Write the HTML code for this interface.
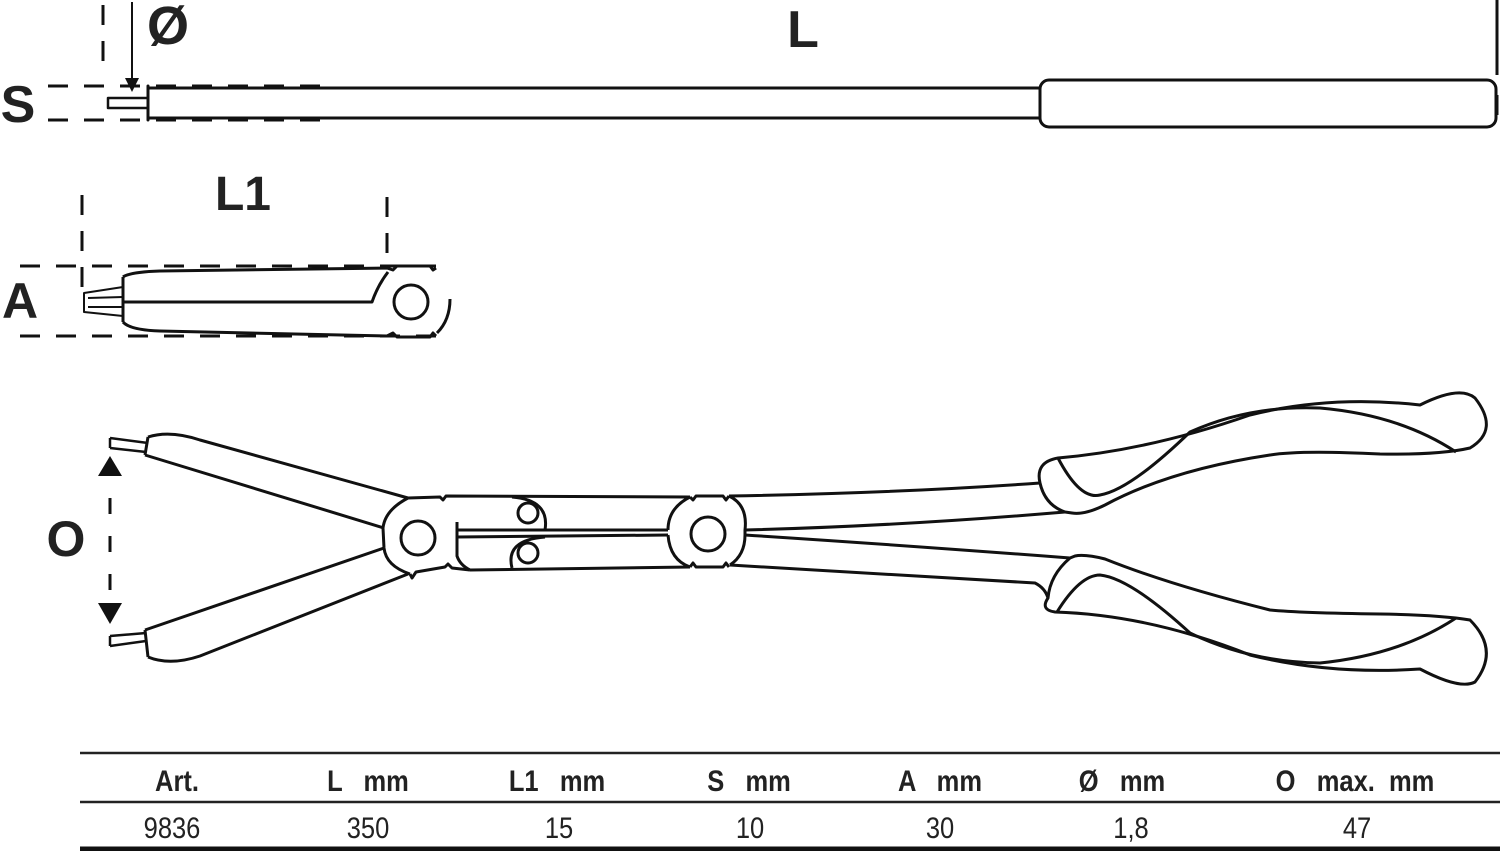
<!DOCTYPE html>
<html><head><meta charset="utf-8"><style>
html,body{margin:0;padding:0;background:#fff;}
svg{display:block;}
text{white-space:pre;}
.b{font-family:"Liberation Sans",sans-serif;font-weight:bold;fill:#222;}
.t{font-family:"Liberation Sans",sans-serif;fill:#222;}
</style></head><body>
<svg width="1500" height="851" viewBox="0 0 1500 851" xmlns="http://www.w3.org/2000/svg">
<g fill="none" stroke="#111" stroke-width="3" stroke-linejoin="round" stroke-linecap="round">
<path d="M148 88 L1040 88 M148 118 L1040 118 M148 86 L148 120" />
<rect x="1040" y="80" width="456" height="47" rx="9"/>
<rect x="108" y="98" width="40" height="10" stroke-width="2.5"/>
</g>
<g fill="none" stroke="#111" stroke-width="3" stroke-dasharray="20,16">
<path d="M48 86 L335 86 M48 120 L335 120"/>
<path d="M103 5 L103 72"/>
<path d="M82 195 L82 290 M387 197 L387 268"/>
<path d="M20 266 L440 266 M20 336 L440 336"/>
<path d="M110 460 L110 620" stroke-dasharray="16,22"/>
</g>
<path d="M1497 0 L1497 75 M1497 95 L1497 115" stroke="#111" stroke-width="3"/>
<path d="M132 2 L132 80" stroke="#111" stroke-width="2"/>
<polygon points="125,78 139,78 132,92" fill="#111"/>
<text x="168" y="44" class="b" font-size="54" text-anchor="middle">Ø</text>
<text x="803" y="47" class="b" font-size="52" text-anchor="middle">L</text>
<text x="18" y="122" class="b" font-size="52" text-anchor="middle">S</text>
<text x="243" y="210" class="b" font-size="48" text-anchor="middle">L1</text>
<text x="20" y="318" class="b" font-size="50" text-anchor="middle">A</text>
<text x="66" y="556" class="b" font-size="50" text-anchor="middle">O</text>
<g fill="none" stroke="#111" stroke-width="3" stroke-linejoin="round">
<path d="M123 277 Q130 272 160 271 L387 268 L393 270 L397 266 L430 266 L433 270 L436 268"/>
<path d="M123 322 Q130 330 160 331 L387 336 L393 333 L397 337 L430 337 L433 333 L436 336"/>
<path d="M123 277 L123 322 M123 302 L372 302 Q378 285 388 272"/>
<path d="M123 287 L84 293 L84 312 L123 316 M123 297 L88 298 M123 307 L88 307" stroke-width="2"/>
<circle cx="411" cy="302" r="17"/>
<path d="M450 299 Q450 320 437 333"/>
</g>
<polygon points="98,476 122,476 110,456" fill="#111"/>
<polygon points="98,603 122,603 110,624" fill="#111"/>
<g fill="none" stroke="#111" stroke-width="3" stroke-linejoin="round">
<path d="M148 437 Q170 430 200 440 L408 498"/>
<path d="M145 455 L384 528"/>
<path d="M148 437 L145 455"/>
<path d="M110 438 L148 443 M110 448 L146 452 M110 438 L110 448" stroke-width="2.5"/>
<path d="M148 657 Q170 666 200 656 L408 574"/>
<path d="M145 630 L384 548"/>
<path d="M148 657 L145 630"/>
<path d="M110 646 L146 641 M110 636 L146 633 M110 636 L110 646" stroke-width="2.5"/>
<path d="M408 498 Q385 510 383 528 L384 548 Q386 566 410 574"/>
<path d="M408 498 L440 497 L443 500 L446 496 L690 497"/>
<path d="M410 574 L412 578 L416 572 L445 567 L448 564 L452 568 L470 570"/>
<circle cx="418" cy="538" r="17"/>
<path d="M457 522 L457 556 Q460 565 470 570"/>
<path d="M457 530 L668 530 M457 537 L668 535"/>
<path d="M512 497 Q550 500 545 530"/>
<path d="M545 537 Q505 540 512 568"/>
<path d="M470 570 L690 567"/>
<circle cx="528" cy="513" r="10"/>
<circle cx="528" cy="553" r="10"/>
<path d="M690 497 Q668 508 668 530 M668 535 Q670 560 690 567"/>
<path d="M690 497 L693 500 L696 496 L723 496 L726 500 L729 496"/>
<path d="M690 567 L693 563 L696 567 L723 567 L726 563 L729 567"/>
<circle cx="708" cy="534" r="17"/>
<path d="M729 496 Q748 505 745 530 L745 535 Q745 555 730 565"/>
<path d="M729 496 Q900 493 1040 483"/>
<path d="M745 530 Q900 526 1065 512"/>
<path d="M745 535 Q900 545 1070 558"/>
<path d="M730 565 Q900 575 1035 583 Q1045 588 1048 598"/>
<path d="M1040 483 Q1035 462 1058 458 Q1150 450 1250 415 Q1330 395 1420 405 Q1460 385 1475 398 Q1500 430 1470 448 Q1440 455 1380 454 Q1300 450 1270 455 Q1170 470 1105 505 Q1085 515 1072 513 L1065 512 Q1045 505 1040 483 Z"/>
<path d="M1058 458 Q1080 500 1100 495 Q1130 490 1190 432 Q1250 405 1320 408 Q1400 415 1456 452"/>
<path d="M1048 598 Q1040 610 1055 612 Q1150 615 1250 655 Q1330 675 1420 669 Q1460 690 1475 682 Q1500 650 1470 620 Q1440 615 1380 614 Q1300 613 1270 610 Q1170 585 1105 559 Q1085 554 1075 556 L1070 558 Q1050 575 1048 598 Z"/>
<path d="M1057 612 Q1080 575 1100 575 Q1130 578 1190 633 Q1250 662 1320 663 Q1400 655 1456 618"/>
</g>
<path d="M80 753 L1500 753" stroke="#222" stroke-width="2.5"/>
<path d="M80 802 L1500 802" stroke="#222" stroke-width="2.5"/>
<path d="M80 849 L1500 849" stroke="#111" stroke-width="5"/>
<g class="b" font-size="30" text-anchor="middle">
<text transform="translate(177,791) scale(0.85,1)">Art.</text>
<text transform="translate(368,791) scale(0.85,1)">L   mm</text>
<text transform="translate(557,791) scale(0.85,1)">L1   mm</text>
<text transform="translate(749,791) scale(0.85,1)">S   mm</text>
<text transform="translate(940,791) scale(0.85,1)">A   mm</text>
<text transform="translate(1122,791) scale(0.85,1)">Ø   mm</text>
<text transform="translate(1355,791) scale(0.85,1)">O   max.  mm</text>
</g>
<g class="t" font-size="30" text-anchor="middle">
<text transform="translate(172,838) scale(0.85,1)">9836</text>
<text transform="translate(368,838) scale(0.85,1)">350</text>
<text transform="translate(559,838) scale(0.85,1)">15</text>
<text transform="translate(750,838) scale(0.85,1)">10</text>
<text transform="translate(940,838) scale(0.85,1)">30</text>
<text transform="translate(1131,838) scale(0.85,1)">1,8</text>
<text transform="translate(1357,838) scale(0.85,1)">47</text>
</g>
</svg>
</body></html>
